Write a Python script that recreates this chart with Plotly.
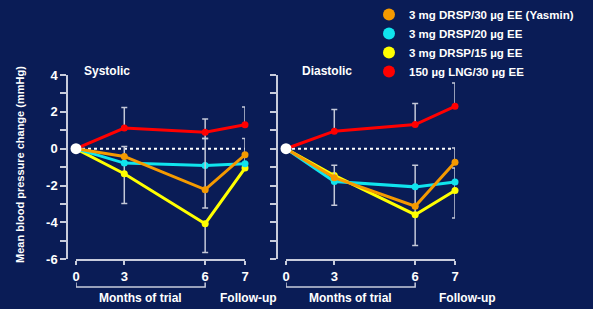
import plotly.graph_objects as go

# ---- data ----
months = ["0", "3", "6", "7"]
# placement of the four visits along the (non-uniform) time axis
visit_pos = [0, 2.0, 5.35, 7]

series_names = ["3 mg DRSP/30 µg EE (Yasmin)", "3 mg DRSP/20 µg EE",
                "3 mg DRSP/15 µg EE", "150 µg LNG/30 µg EE"]
series_colors = ["#f59a00", "#10e4ee", "#ffff00", "#ff0000"]

sys_orange = [0, -0.42, -2.22, -0.33]
sys_cyan = [0, -0.78, -0.91, -0.81]
sys_yellow = [0, -1.36, -4.07, -1.05]
sys_red = [0, 1.12, 0.90, 1.30]

dia_orange = [0, -1.57, -3.12, -0.73]
dia_cyan = [0, -1.78, -2.07, -1.80]
dia_yellow = [0, -1.45, -3.58, -2.27]
dia_red = [0, 0.95, 1.31, 2.30]

# error bars (upper / lower extents)
sys_orange_up = [0, 0, 2.78, 0]
sys_orange_dn = [0, 0, 1.0, 0]
sys_cyan_up = [0, 0, 0, 0]
sys_cyan_dn = [0, 0, 0, 0]
sys_yellow_up = [0, 1.48, 0, 1.61]
sys_yellow_dn = [0, 1.61, 1.56, 0]
sys_red_up = [0, 1.12, 0.71, 0.96]
sys_red_dn = [0, 0, 0.34, 0]

dia_orange_up = [0, 0, 0, 0.77]
dia_orange_dn = [0, 0, 0, 0]
dia_cyan_up = [0, 0.88, 0, 0]
dia_cyan_dn = [0, 1.29, 0, 0]
dia_yellow_up = [0, 0, 2.68, 1.23]
dia_yellow_dn = [0, 0, 1.67, 1.49]
dia_red_up = [0, 1.18, 1.14, 1.27]
dia_red_dn = [0, 0, 0, 0]

y_ticks = [-6, -5, -4, -3, -2, -1, 0, 1, 2, 3, 4]
y_ticktext = ["-6", "", "-4", "", "-2", "", "0", "", "2", "", "4"]

BG = "#0a1c56"
AX = "#c8ccdc"
ERR = "#c4c8d8"
FONT = "Liberation Sans Narrow, Arial Narrow, Liberation Sans, Arial, sans-serif"

fig = go.Figure()

# legend entries
for name, col in zip(series_names, series_colors):
    fig.add_trace(go.Scatter(x=[None], y=[None], mode="markers", name=name,
                             marker=dict(color=col, size=12), showlegend=True))

panels = [
    ("x", "y", [sys_orange, sys_cyan, sys_yellow, sys_red],
     [sys_orange_up, sys_cyan_up, sys_yellow_up, sys_red_up],
     [sys_orange_dn, sys_cyan_dn, sys_yellow_dn, sys_red_dn]),
    ("x2", "y2", [dia_orange, dia_cyan, dia_yellow, dia_red],
     [dia_orange_up, dia_cyan_up, dia_yellow_up, dia_red_up],
     [dia_orange_dn, dia_cyan_dn, dia_yellow_dn, dia_red_dn]),
]
draw_order = [2, 1, 0, 3]

for xa, ya, vals, ups, dns in panels:
    # dotted zero reference
    fig.add_trace(go.Scatter(x=[visit_pos[0], visit_pos[-1]], y=[0, 0], mode="lines",
                             line=dict(color="white", width=2, dash="dot"),
                             xaxis=xa, yaxis=ya, showlegend=False, hoverinfo="skip"))
    for i in draw_order:
        fig.add_trace(go.Scatter(
            x=visit_pos, y=vals[i], mode="lines+markers", xaxis=xa, yaxis=ya,
            line=dict(color=series_colors[i], width=3),
            marker=dict(color=series_colors[i], size=7),
            error_y=dict(type="data", symmetric=False, array=ups[i], arrayminus=dns[i],
                         color=ERR, thickness=1.5, width=3),
            cliponaxis=False, showlegend=False))
    # baseline marker
    fig.add_trace(go.Scatter(x=[visit_pos[0]], y=[vals[0][0]], mode="markers",
                             marker=dict(color="white", size=11), xaxis=xa, yaxis=ya,
                             cliponaxis=False, showlegend=False))

W, H = 593, 309
xdom1 = [76 / W, 245 / W]
xdom2 = [286 / W, 455 / W]
ydom = [(H - 259.3) / H, (H - 75) / H]

xcommon = dict(range=[visit_pos[0], visit_pos[-1]], tickvals=visit_pos, ticktext=months,
               showline=True, linecolor=AX, linewidth=1.5, ticks="outside", ticklen=4,
               tickcolor=AX, tickwidth=1.5, showgrid=False, zeroline=False,
               tickfont=dict(color="white", size=13, family=FONT, weight="bold"))
ycommon = dict(range=[-6, 4], tickvals=y_ticks, ticktext=y_ticktext, domain=ydom,
               showline=True, linecolor=AX, linewidth=1.5, ticks="outside", ticklen=6,
               tickcolor=AX, tickwidth=1.5, showgrid=False, zeroline=False, anchor="free",
               tickfont=dict(color="white", size=13, family=FONT, weight="bold"))

fig.update_layout(
    width=W, height=H, margin=dict(l=0, r=0, t=0, b=0, autoexpand=False),
    paper_bgcolor=BG, plot_bgcolor=BG,
    font=dict(family=FONT, color="white", size=12, weight="bold"),
    xaxis=dict(domain=xdom1, anchor="y", **xcommon),
    xaxis2=dict(domain=xdom2, anchor="y2", **xcommon),
    yaxis=dict(position=67 / W, showticklabels=True, **ycommon),
    yaxis2=dict(position=277 / W, showticklabels=False, **ycommon),
    legend=dict(x=369 / W, y=1.0, xanchor="left", yanchor="top", bgcolor="rgba(0,0,0,0)",
                font=dict(color="white", size=11.5, family=FONT, weight="bold"),
                itemwidth=30, tracegroupgap=0),
    showlegend=True,
)

# brackets under "Months of trial"
y_lo, y_hi = (H - 287) / H, (H - 282.5) / H
for xr in ["x", "x2"]:
    fig.add_shape(type="path", xref=xr, yref="paper",
                  path=f"M {visit_pos[0]},{y_hi} L {visit_pos[0]},{y_lo} L {visit_pos[2]},{y_lo} L {visit_pos[2]},{y_hi}",
                  line=dict(color=AX, width=1.5))

ann = []
for xr, fu_shift, title, tx in [("x", 3, "Systolic", 82), ("x2", 12, "Diastolic", 300)]:
    ann.append(dict(x=(visit_pos[0] + visit_pos[2]) / 2, xref=xr, y=(H - 298) / H, yref="paper",
                    text="Months of trial", showarrow=False, xanchor="center", yanchor="middle"))
    ann.append(dict(x=visit_pos[3], xref=xr, xshift=fu_shift, y=(H - 298) / H, yref="paper",
                    text="Follow-up", showarrow=False, xanchor="center", yanchor="middle"))
    ann.append(dict(x=tx / W, xref="paper", y=(H - 71) / H, yref="paper", text=title,
                    showarrow=False, xanchor="left", yanchor="middle"))
ann.append(dict(x=20 / W, xref="paper", y=(H - 165) / H, yref="paper",
                text="Mean blood pressure change (mmHg)", textangle=-90, showarrow=False,
                font=dict(size=11), xanchor="center", yanchor="middle"))
fig.update_layout(annotations=ann)

fig.write_html("out.html", config={"displayModeBar": False},
               post_script="document.body.style.margin='0';document.body.style.background='" + BG + "';")
